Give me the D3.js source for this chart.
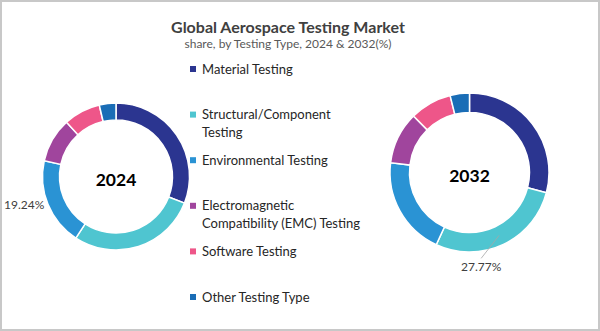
<!DOCTYPE html>
<html>
<head>
<meta charset="utf-8">
<script src="https://cdn.jsdelivr.net/npm/d3@7"></script>
<style>
  body { margin: 0; background: #fff; }
  .chart { width: 600px; height: 331px; }
  text { font-family: Lato, "Open Sans", sans-serif; }
</style>
</head>
<body>
<div class="chart"></div>
<script>
// data
const categories = ["Material Testing", "Structural/Component Testing", "Environmental Testing",
  "Electromagnetic Compatibility (EMC) Testing", "Software Testing", "Other Testing Type"];
const legendLines = [["Material Testing"], ["Structural/Component", "Testing"], ["Environmental Testing"],
  ["Electromagnetic", "Compatibility (EMC) Testing"], ["Software Testing"], ["Other Testing Type"]];
const colors = ["#2b3590", "#4fc5d0", "#2a93d4", "#a0459d", "#ee5689", "#1a6db6"];
const years = ["2024", "2032"];
const values2024 = [30.9, 28.3, 19.24, 9.8, 8.1, 3.66];
const values2032 = [29.1, 27.77, 20.1, 10.6, 8.5, 3.93];

let chart = {};
chart.svg = d3.select(".chart").append("svg").attr("width", 600).attr("height", 331);

// frame
chart.svg.append("rect").attr("x", 1).attr("y", 1).attr("width", 598).attr("height", 329)
  .attr("fill", "#fff").attr("stroke", "#c8c8c8").attr("stroke-width", 2);

chart.svg.append("text").attr("x", 288).attr("y", 33).attr("text-anchor", "middle")
  .attr("font-size", 16).attr("font-weight", "bold").attr("fill", "#404040")
  .text("Global Aerospace Testing Market");
chart.svg.append("text").attr("x", 288).attr("y", 48).attr("text-anchor", "middle")
  .attr("font-size", 12).attr("fill", "#595959")
  .text("share, by Testing Type, 2024 & 2032(%)");

const color = d3.scaleOrdinal(categories, colors);
const pie = d3.pie().sort(null).value(d => d.v);

const donuts = [
  { year: years[0], values: values2024, cx: 116, cy: 176.5, r: 73.5, inner: 56.5 },
  { year: years[1], values: values2032, cx: 469.5, cy: 172.5, r: 79.5, inner: 60 }
];

donuts.forEach(dn => {
  const g = chart.svg.append("g").attr("transform", `translate(${dn.cx},${dn.cy})`);
  const arc = d3.arc().innerRadius(dn.inner).outerRadius(dn.r);
  const arcs = pie(dn.values.map((v, i) => ({ k: categories[i], v: v })));
  g.selectAll("path").data(arcs).enter().append("path")
    .attr("d", arc)
    .attr("fill", d => color(d.data.k))
    .attr("stroke", "#fff").attr("stroke-width", 1.5);
  g.append("text").attr("x", 0).attr("y", 5).attr("text-anchor", "middle")
    .attr("dominant-baseline", "middle")
    .attr("font-size", 17.5).attr("font-weight", "bold").attr("fill", "#000")
    .text(dn.year);
  dn.g = g; dn.arcs = arcs;
});

// data labels
{
  const dn = donuts[0];
  const a = dn.arcs[2];
  const mid = (a.startAngle + a.endAngle) / 2;
  const rr = dn.r + 4;
  dn.g.append("text")
    .attr("x", Math.sin(mid) * rr).attr("y", -Math.cos(mid) * rr)
    .attr("text-anchor", "end").attr("dominant-baseline", "middle")
    .attr("font-size", 12).attr("fill", "#404040")
    .text(a.data.v.toFixed(2) + "%");
}
{
  const dn = donuts[1];
  const a = dn.arcs[1];
  const mid = (a.startAngle + a.endAngle) / 2;
  const p0 = [Math.sin(mid) * (dn.r - 10), -Math.cos(mid) * (dn.r - 10)];
  const p1 = [p0[0] - 18, p0[1] + 23];
  dn.g.append("line").attr("x1", p0[0]).attr("y1", p0[1]).attr("x2", p1[0]).attr("y2", p1[1])
    .attr("stroke", "#a6a6a6").attr("stroke-width", 0.8);
  dn.g.append("text").attr("x", p1[0]).attr("y", p1[1] + 10)
    .attr("text-anchor", "middle").attr("dominant-baseline", "middle")
    .attr("font-size", 12).attr("fill", "#404040")
    .text(a.data.v.toFixed(2) + "%");
}

// legend
const legendY = d3.scalePoint().domain(categories).range([69, 297]);
const legend = chart.svg.append("g").selectAll("g").data(categories).enter().append("g")
  .attr("transform", d => `translate(190,${legendY(d)})`);
legend.append("rect").attr("x", 0).attr("y", -3).attr("width", 6).attr("height", 6)
  .attr("fill", d => color(d));
legend.append("text").attr("x", 12).attr("font-size", 13).attr("fill", "#262626")
  .selectAll("tspan").data((d, i) => legendLines[i]).enter().append("tspan")
  .attr("x", 12).attr("y", (d, i) => 4.5 + i * 18)
  .text(d => d);
</script>
</body>
</html>
